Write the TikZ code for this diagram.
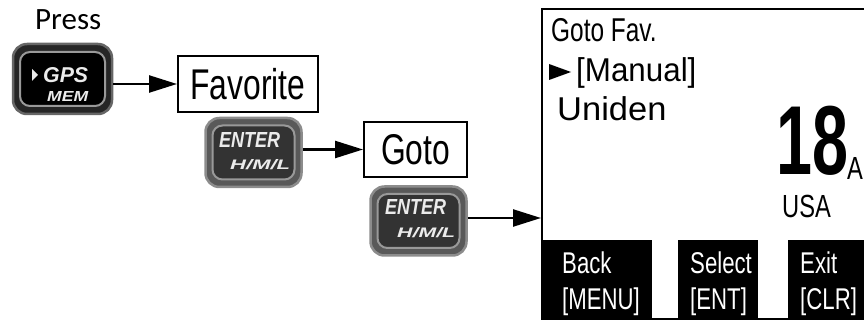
\documentclass[tikz,border=0pt]{standalone}
\usepackage{fontspec}
\setmainfont{Liberation Sans}
\newfontfamily\condf{Liberation Sans}[FakeStretch=0.74]
\newfontfamily\itemf{Liberation Sans}[FakeStretch=0.95]
\newfontfamily\bigf{Liberation Sans}[FakeStretch=0.66]
\newfontfamily\pressf{Carlito}
\usetikzlibrary{arrows.meta}
\begin{document}
\begin{tikzpicture}[x=1pt,y=-1pt,
  arr/.style={line width=2.4pt,-{Triangle[length=28pt,width=17pt]}},
  menubox/.style={draw,line width=2pt,inner sep=0pt,font=\condf\fontsize{43}{46}\selectfont},
  scrtxt/.style={anchor=base west,inner sep=0pt,font=\condf\fontsize{33}{36}\selectfont},
  itemtxt/.style={anchor=base west,inner sep=0pt,font=\itemf\fontsize{33}{36}\selectfont},
  softkey/.style={fill=black,anchor=north west,inner sep=0pt,minimum height=80pt},
  softtxt/.style={anchor=base west,inner sep=0pt,text=white,font=\condf\fontsize{30}{33}\selectfont},
  gpsout/.style={fill=black!85,draw=black!60,line width=2.5pt,rounded corners=14pt,minimum width=99pt,minimum height=70pt,inner sep=0pt},
  gpsin/.style={fill=black,draw=black!40,line width=2pt,rounded corners=10pt,minimum width=85pt,minimum height=54pt,inner sep=0pt},
  entout/.style={fill=black!65,draw=black!45,line width=2.5pt,rounded corners=14pt,minimum width=96pt,minimum height=69pt,inner sep=0pt},
  entin/.style={fill=black!80,draw=black!40,line width=2pt,rounded corners=10pt,minimum width=82pt,minimum height=54pt,inner sep=0pt},
  btxt/.style={inner sep=0pt,text=black!8,font=\bfseries\itshape},
]
\useasboundingbox (0,0) rectangle (864,320);
\clip (0,0) rectangle (864,320);

% Press label
\node[anchor=base west,inner sep=0pt,font=\pressf\fontsize{31}{34}\selectfont] (press) at (35,30) {Press};

% GPS button
\node[gpsout] (gps) at (62.5,79) {};
\node[gpsin] (gpsi) at (gps) {};
\fill[black!8] (32,69) -- (32,81) -- (38,75) -- cycle;
\node[btxt,anchor=west] (gpst) at (43,75.5) {\resizebox{45pt}{15pt}{GPS}};
\node[btxt,anchor=west] (memt) at (47,97) {\resizebox{41pt}{10pt}{MEM}};

% Favorite box
\node[menubox,minimum width=140pt,minimum height=56pt] (fav) at (248,84) {Favorite};
\draw[arr] (gps.east |- fav.west) -- (fav.west);

% ENTER button 1
\node[entout] (e1) at (253.5,152.5) {};
\node[entin] (e1i) at (e1) {};
\node[btxt,anchor=west] (e1a) at (219,140.5) {\resizebox{61pt}{15pt}{ENTER}};
\node[btxt,anchor=west] (e1b) at (230,165) {\resizebox{60pt}{10pt}{H/M/L}};

% Goto box
\node[menubox,minimum width=103pt,minimum height=55pt] (goto) at (415.5,149.5) {Goto};
\draw[arr] (e1.east |- goto.west) -- (goto.west);

% ENTER button 2
\node[entout] (e2) at (418.5,221) {};
\node[entin] (e2i) at (e2) {};
\node[btxt,anchor=west] (e2a) at (385,207.5) {\resizebox{61pt}{15pt}{ENTER}};
\node[btxt,anchor=west] (e2b) at (397,233) {\resizebox{58pt}{10pt}{H/M/L}};

% Screen
\node[draw,line width=2pt,anchor=north west,minimum width=340pt,minimum height=310pt,inner sep=0pt] (screen) at (541,8) {};
\coordinate (s3) at (screen.west |- 0,218);
\draw[arr] (e2.east |- s3) -- (s3);

\node[scrtxt] (l1) at (551,42) {Goto Fav.};
\fill (549,64) -- (549,80) -- (571,72) -- cycle;
\node[itemtxt] (l2) at (576,82) {[Manual]};
\node[itemtxt] (l3) at (557,121) {\scalebox{1.1}[1]{Uniden}};

\node[anchor=base west,inner sep=0pt,font=\bigf\bfseries\fontsize{98}{100}\selectfont] (num) at (776,175) {18};
\node[scrtxt,font=\condf\fontsize{32}{34}\selectfont] (suba) at (847,180) {A};
\node[scrtxt,font=\condf\fontsize{32}{34}\selectfont] (usa) at (782,218) {USA};

% Soft keys
\node[softkey,minimum width=111pt] (k1) at (541,240) {};
\node[softkey,minimum width=80pt] (k2) at (678,240) {};
\node[softkey,minimum width=80pt] (k3) at (788,240) {};
\node[softtxt] (k1a) at (562,273) {Back};
\node[softtxt] (k1b) at (562,309) {[MENU]};
\node[softtxt] (k2a) at (690,273) {Select};
\node[softtxt] (k2b) at (690,309) {[ENT]};
\node[softtxt] (k3a) at (800,273) {Exit};
\node[softtxt] (k3b) at (800,309) {[CLR]};
\end{tikzpicture}
\end{document}
